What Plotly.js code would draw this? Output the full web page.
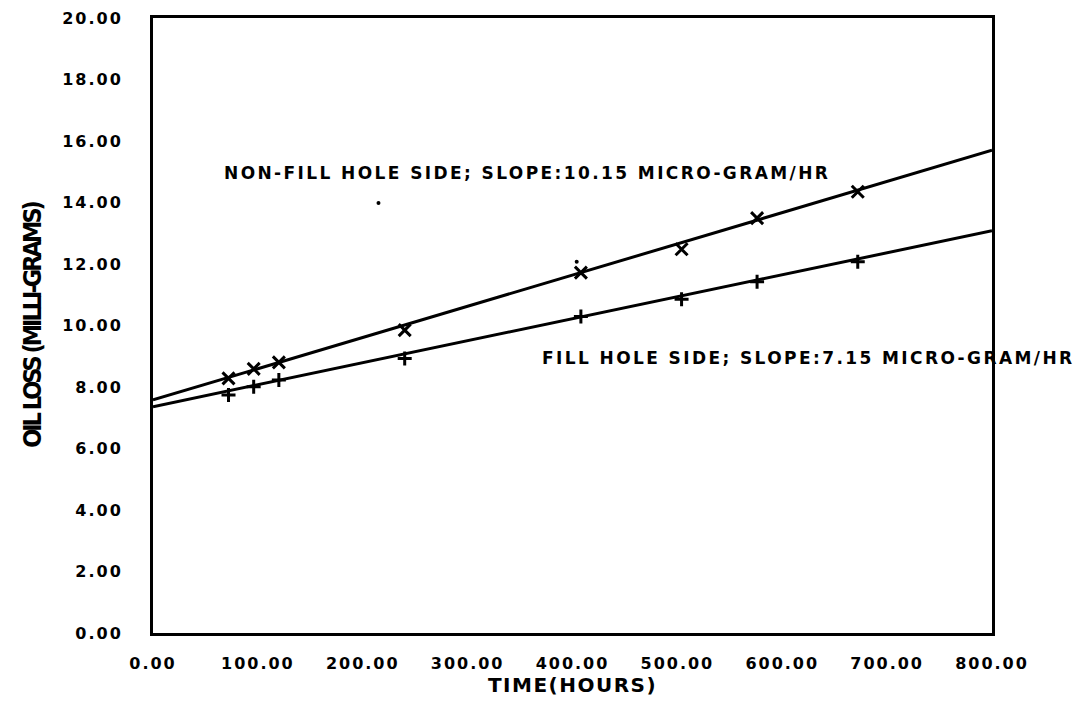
<!DOCTYPE html>
<html>
<head>
<meta charset="utf-8">
<script src="https://cdn.plot.ly/plotly-3.0.1.min.js"></script>
<style>
  html, body { margin: 0; padding: 0; background: #fff; }
  #chart { width: 1085px; height: 704px; }
  .xtick text, .ytick text { letter-spacing: 2px; }
  .annotation-text { letter-spacing: 2.4px; }
  .ytitle { letter-spacing: -3px; }
  .xtitle { letter-spacing: 1.5px; }
</style>
</head>
<body>
<div id="chart"></div>
<script>
// ---- data ----
const hours = [72, 96, 120, 240, 408, 504, 576, 672];
const nonFillHoleLoss = [8.28, 8.59, 8.80, 9.85, 11.72, 12.48, 13.49, 14.35];
const fillHoleLoss    = [7.74, 8.01, 8.23, 8.93, 10.29, 10.85, 11.42, 12.07];

const fitHours = [0, 800];
const nonFillIntercept = 7.58;   // mg
const nonFillSlope = 0.01015;    // mg/hr (10.15 micro-gram/hr)
const fillIntercept = 7.36;      // mg
const fillSlope = 0.00715;       // mg/hr (7.15 micro-gram/hr)

const strayHours = [215, 404];
const strayLoss  = [13.98, 12.07];

const xTickVals = [0, 100, 200, 300, 400, 500, 600, 700, 800];
const xTickText = ["0.00", "100.00", "200.00", "300.00", "400.00", "500.00", "600.00", "700.00", "800.00"];
const yTickVals = [0, 2, 4, 6, 8, 10, 12, 14, 16, 18, 20];
const yTickText = ["0.00", "2.00", "4.00", "6.00", "8.00", "10.00", "12.00", "14.00", "16.00", "18.00", "20.00"];

const labelNonFill = "NON-FILL HOLE SIDE; SLOPE:10.15 MICRO-GRAM/HR";
const labelFill = "FILL HOLE SIDE; SLOPE:7.15 MICRO-GRAM/HR";

// ---- traces ----
const nonFillFit = fitHours.map(h => nonFillIntercept + nonFillSlope * h);
const fillFit = fitHours.map(h => fillIntercept + fillSlope * h);

const traces = [
  { x: fitHours, y: nonFillFit, mode: 'lines', line: { color: '#000', width: 3 }, hoverinfo: 'skip', showlegend: false },
  { x: fitHours, y: fillFit, mode: 'lines', line: { color: '#000', width: 3 }, hoverinfo: 'skip', showlegend: false },
  { x: hours, y: nonFillHoleLoss, mode: 'markers', name: 'Non-fill hole side',
    marker: { symbol: 'x-thin', size: 12, color: '#000', line: { color: '#000', width: 3 } }, showlegend: false },
  { x: hours, y: fillHoleLoss, mode: 'markers', name: 'Fill hole side',
    marker: { symbol: 'cross-thin', size: 10, color: '#000', line: { color: '#000', width: 3 } }, showlegend: false },
  { x: strayHours, y: strayLoss, mode: 'markers', marker: { symbol: 'circle', size: 4, color: '#000' },
    hoverinfo: 'skip', showlegend: false }
];

const tickFont = { family: 'DejaVu Sans', size: 16, color: '#000', weight: 'bold' };

const layout = {
  width: 1085, height: 704,
  margin: { l: 153, r: 93, t: 18, b: 71 },
  paper_bgcolor: '#fff', plot_bgcolor: '#fff',
  showlegend: false,
  xaxis: {
    range: [0, 800], tickvals: xTickVals, ticktext: xTickText,
    showgrid: false, zeroline: false, showline: true, mirror: true,
    linecolor: '#000', linewidth: 3, ticks: '', ticklabelstandoff: 14,
    tickfont: tickFont, automargin: false,
    title: { text: 'TIME(HOURS)', standoff: 4,
      font: { family: 'DejaVu Sans', size: 20, color: '#000', weight: 'bold' } }
  },
  yaxis: {
    range: [0, 20], tickvals: yTickVals, ticktext: yTickText,
    showgrid: false, zeroline: false, showline: true, mirror: true,
    linecolor: '#000', linewidth: 3, ticks: '', ticklabelstandoff: 24,
    tickfont: tickFont, automargin: false,
    title: { text: 'OIL LOSS (MILLI-GRAMS)', standoff: 14,
      font: { family: 'Liberation Sans Narrow, DejaVu Sans Condensed', size: 25, color: '#000', weight: 'bold' } }
  },
  annotations: [
    { x: 66, y: 14.96, xref: 'x', yref: 'y', text: labelNonFill, showarrow: false,
      xanchor: 'left', yanchor: 'middle', align: 'left',
      font: { family: 'DejaVu Sans', size: 17, color: '#000', weight: 'bold' } },
    { x: 369, y: 8.94, xref: 'x', yref: 'y', text: labelFill, showarrow: false,
      xanchor: 'left', yanchor: 'middle', align: 'left',
      font: { family: 'DejaVu Sans', size: 17, color: '#000', weight: 'bold' } }
  ]
};

Plotly.newPlot('chart', traces, layout, { displayModeBar: false, staticPlot: true });
</script>
</body>
</html>
